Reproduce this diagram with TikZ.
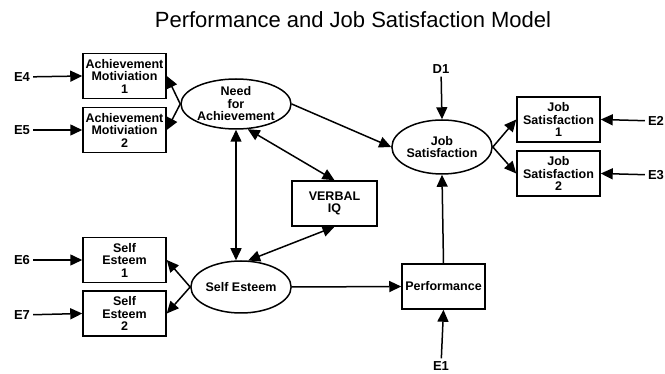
\documentclass[tikz,border=0pt]{standalone}
\usepackage{fontspec}
\setmainfont{Liberation Sans}
\usetikzlibrary{arrows.meta,shapes.geometric}
\begin{document}
\begin{tikzpicture}[x=1pt,y=-1pt,
  every node/.style={font=\fontsize{12.5}{12.5}\selectfont\bfseries, inner sep=1pt, align=center},
  obs/.style={draw, line width=1.5pt, rectangle, minimum width=83pt, minimum height=45pt, inner sep=0pt},
  lat/.style={draw, line width=1.5pt, ellipse, inner sep=0pt},
  lbl/.style={inner sep=3pt, font=\fontsize{13}{13}\selectfont\bfseries},
  arr/.style={line width=1.5pt, -{Triangle[length=12pt,width=11pt]}},
  darr/.style={line width=1.5pt, {Triangle[length=12pt,width=11pt]}-{Triangle[length=12pt,width=11pt]}}
]
\useasboundingbox (0,0) rectangle (665,374);
\node[font=\fontsize{22}{24}\selectfont] (title) at (353,20) {Performance and Job Satisfaction Model};

\node[obs] (AM1) at (124.5,76) {Achievement\\Motiviation\\1};
\node[obs] (AM2) at (124.5,130) {Achievement\\Motiviation\\2};
\node[obs] (SE1) at (124.5,260) {Self\\Esteem\\1};
\node[obs] (SE2) at (124.5,313.5) {Self\\Esteem\\2};
\node[obs] (JS1) at (558.5,119.5) {Job\\Satisfaction\\1};
\node[obs] (JS2) at (558.5,173.5) {Job\\Satisfaction\\2};
\node[obs, minimum width=85pt] (VIQ) at (334.5,203.5) {VERBAL\\IQ};
\node[obs] (PERF) at (443.5,286.5) {Performance};

\node[lat, minimum width=88pt, minimum height=50pt] (NFA) at (236,104) {Need\\for\\Achievement};
\node[lat, minimum width=100pt, minimum height=54pt] (JSAT) at (442,147) {Job\\Satisfaction};
\node[lat, minimum width=98pt, minimum height=52pt] (SE) at (241,287) {Self Esteem};

\node[lbl] (E4) at (22,77) {E4};
\node[lbl] (E5) at (22,130) {E5};
\node[lbl] (E6) at (22,260) {E6};
\node[lbl] (E7) at (22,315) {E7};
\node[lbl] (E2) at (656,121) {E2};
\node[lbl] (E3) at (656,175) {E3};
\node[lbl] (D1) at (441,69) {D1};
\node[lbl] (E1) at (441,366) {E1};

\draw[arr] (E4) -- (AM1.west);
\draw[arr] (E5) -- (AM2.west);
\draw[arr] (E6) -- (SE1.west);
\draw[arr] (E7) -- (SE2.west);
\draw[arr] (E2) -- (JS1.east);
\draw[arr] (E3) -- (JS2.east);
\draw[arr] (D1) -- (JSAT.north);
\draw[arr] (E1) -- (PERF.south);

\draw[arr] (NFA.west) -- (AM1.east);
\draw[arr] (NFA.west) -- (AM2.east);
\draw[arr] (SE.west) -- (SE1.east);
\draw[arr] (SE.west) -- (SE2.east);
\draw[arr] (JSAT.east) -- (JS1.west);
\draw[arr] (JSAT.east) -- (JS2.west);
\draw[arr] (NFA.east) -- (JSAT.west);
\draw[arr] (SE.east) -- (PERF.west);
\draw[arr] (PERF.north) -- (JSAT.south);

\draw[darr] (NFA.south) -- (NFA.south |- SE.north);
\draw[darr] (NFA.-65) -- (VIQ.north);
\draw[darr] (SE.75) -- (VIQ.south);
\end{tikzpicture}
\end{document}
